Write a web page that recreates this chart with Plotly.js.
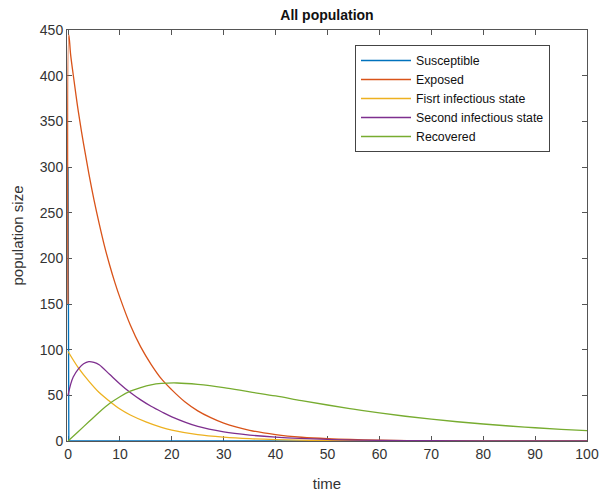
<!DOCTYPE html>
<html>
<head>
<meta charset="utf-8">
<script src="https://cdn.plot.ly/plotly-3.0.1.min.js"></script>
<style>html,body{margin:0;padding:0;background:#fff;}#chart{width:601px;height:495px;}</style>
</head>
<body>
<div id="chart"></div>
<script>
// Series names
const seriesNames = ["Susceptible", "Exposed", "Fisrt infectious state", "Second infectious state", "Recovered"];

// Susceptible
const tS = [0, 0.15, 100];
const susceptible = [300, 0, 0];

// Exposed
const tE = [0, 0.15, 0.5, 1, 1.5, 2, 3, 4, 5, 6, 7, 8, 9, 10, 12, 14, 16, 18, 20, 22.5, 25, 27.5, 30, 35, 40, 45, 50, 60, 70, 80, 90, 100];
const exposed = [150, 445, 423, 401, 380, 360, 325, 293, 264, 238, 214, 193, 174, 157, 127, 103, 84, 68, 56, 43, 33, 25.5, 19.5, 11.7, 7, 4.1, 2.5, 0.9, 0.3, 0.1, 0.04, 0.01];

// First infectious state
const tI1 = [0, 2, 4, 6, 8, 10, 12, 15, 18, 20, 25, 30, 35, 40, 50, 60, 70, 80, 90, 100];
const infect1 = [98, 80, 65.5, 53, 43.5, 35, 28.5, 21, 15, 12, 7, 4.2, 2.5, 1.5, 0.5, 0.2, 0.08, 0.03, 0.01, 0];

// Second infectious state
const tI2 = [0, 0.5, 1, 2, 3, 4, 5, 6, 8, 10, 12, 14, 16, 18, 20, 25, 30, 35, 40, 50, 60, 70, 80, 90, 100];
const infect2 = [50, 62, 70, 79, 84.5, 86.8, 86, 83.5, 73, 62.5, 53, 45, 38, 32, 26.5, 16, 10, 6.5, 4.3, 1.8, 0.7, 0.3, 0.1, 0.05, 0.02];

// Recovered
const tR = [0, 2, 4, 6, 8, 10, 12, 14, 16, 18, 21, 25, 30, 35, 40, 45, 50, 55, 60, 65, 70, 75, 80, 85, 90, 95, 100];
const recovered = [0, 10.5, 21, 31.5, 41, 48.5, 54.5, 58.5, 61.5, 63, 63.5, 62, 58.5, 53.8, 49.3, 44.2, 39.4, 34.8, 30.7, 27.1, 23.9, 21.1, 18.6, 16.4, 14.5, 12.8, 11.3];

// Axis ticks
const xTicks = [0, 10, 20, 30, 40, 50, 60, 70, 80, 90, 100];
const yTicks = [0, 50, 100, 150, 200, 250, 300, 350, 400, 450];

const colors = ["#0072BD", "#D95319", "#EDB120", "#7E2F8E", "#77AC30"];
const xs = [tS, tE, tI1, tI2, tR];
const ys = [susceptible, exposed, infect1, infect2, recovered];

const traces = ys.map((y, i) => ({
  x: xs[i], y: y, name: seriesNames[i], type: "scatter", mode: "lines",
  line: {color: colors[i], width: 1.3, shape: i === 0 ? "linear" : "spline", smoothing: 1}
}));

const FONT = "Liberation Sans, Arial, sans-serif";
const axisCommon = {
  showgrid: false, zeroline: false, showline: true, linecolor: "#555", linewidth: 1,
  mirror: "ticks", ticks: "inside", ticklen: 5, tickcolor: "#555", layer: "below traces",
  tickfont: {family: FONT, size: 14, color: "#333"},
  fixedrange: true
};

const layout = {
  width: 601, height: 495,
  paper_bgcolor: "#fff", plot_bgcolor: "#fff",
  margin: {l: 67, r: 14, t: 30, b: 54},
  title: {text: "<b>All population</b>", font: {family: FONT, size: 14, color: "#111"},
          x: 0.5, xref: "paper", y: 1 - 15/495, yref: "container", yanchor: "middle"},
  xaxis: Object.assign({}, axisCommon, {range: [-0.2, 100], tickvals: xTicks,
          title: {text: "time", font: {family: FONT, size: 15, color: "#333"}, standoff: 17}}),
  yaxis: Object.assign({}, axisCommon, {range: [0, 450], tickvals: yTicks,
          title: {text: "population size", font: {family: FONT, size: 15, color: "#333"}, standoff: 12}}),
  showlegend: true,
  legend: {x: (355-67)/520, y: 1 - 15/411, xanchor: "left", yanchor: "top",
           bgcolor: "#fff", bordercolor: "#444", borderwidth: 1,
           font: {family: FONT, size: 12.3, color: "#111"},
           tracegroupgap: 0, itemwidth: 50}
};

Plotly.newPlot("chart", traces, layout, {staticPlot: true, displayModeBar: false});
</script>
</body>
</html>
